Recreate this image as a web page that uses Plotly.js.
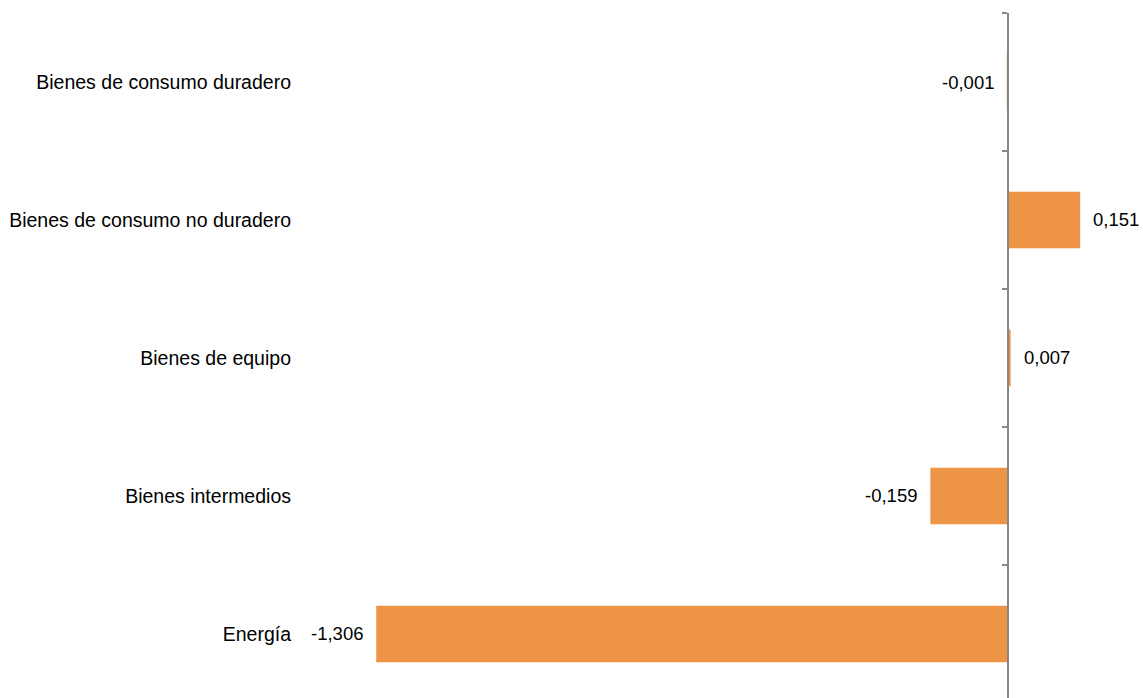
<!DOCTYPE html>
<html>
<head>
<meta charset="utf-8">
<script src="https://cdn.plot.ly/plotly-3.0.1.min.js"></script>
<style>html,body{margin:0;padding:0;background:#fff;}#chart{width:1143px;height:698px;}</style>
</head>
<body>
<div id="chart"></div>
<script>
const categories = ['Bienes de consumo duradero', 'Bienes de consumo no duradero', 'Bienes de equipo', 'Bienes intermedios', 'Energía'];
const values = [-0.001, 0.151, 0.007, -0.159, -1.306];
const labels = values.map(v => v.toFixed(3).replace('.', ','));

const xMin = -1.4638, xMax = 0.281;
const yRange = [4.464, -0.5];
const family = '"Liberation Sans", Arial, sans-serif';
const catFont = {family: family, size: 19.5, color: '#000'};
const valFont = {family: family, size: 18.5, color: '#000'};

const traces = [
  {
    type: 'bar', orientation: 'h',
    x: values, y: categories,
    width: 0.41,
    marker: {color: '#ED9446'},
    hoverinfo: 'skip'
  },
  {
    type: 'scatter', mode: 'markers',
    x: values.map(() => 0), y: categories,
    yaxis: 'y2',
    marker: {opacity: 0},
    hoverinfo: 'skip', showlegend: false
  }
];

const annotations = values.map((v, i) => ({
  x: v, y: categories[i], xref: 'x', yref: 'y',
  text: labels[i], showarrow: false,
  xanchor: v < 0 ? 'right' : 'left',
  xshift: v < 0 ? -11 : 11,
  font: valFont
}));

const layout = {
  width: 1143, height: 698,
  margin: {l: 300, r: 0, t: 13, b: 0, pad: 0},
  paper_bgcolor: '#fff', plot_bgcolor: '#fff',
  showlegend: false,
  font: catFont,
  xaxis: {range: [xMin, xMax], visible: false, fixedrange: true},
  yaxis: {
    type: 'category', categoryarray: categories, range: yRange,
    showline: false, ticks: '', showgrid: false, zeroline: false,
    tickfont: catFont, ticklabelstandoff: 8, automargin: false
  },
  yaxis2: {
    type: 'category', categoryarray: categories, range: yRange,
    overlaying: 'y', anchor: 'free', side: 'left',
    position: (0 - xMin) / (xMax - xMin),
    showline: true, linecolor: '#868686', linewidth: 1.5,
    ticks: 'outside', ticklen: 5, tickwidth: 1.5, tickcolor: '#868686',
    tickson: 'boundaries', showticklabels: false, showgrid: false, zeroline: false
  },
  annotations: annotations
};

Plotly.newPlot('chart', traces, layout, {displayModeBar: false, staticPlot: true});
</script>
</body>
</html>
